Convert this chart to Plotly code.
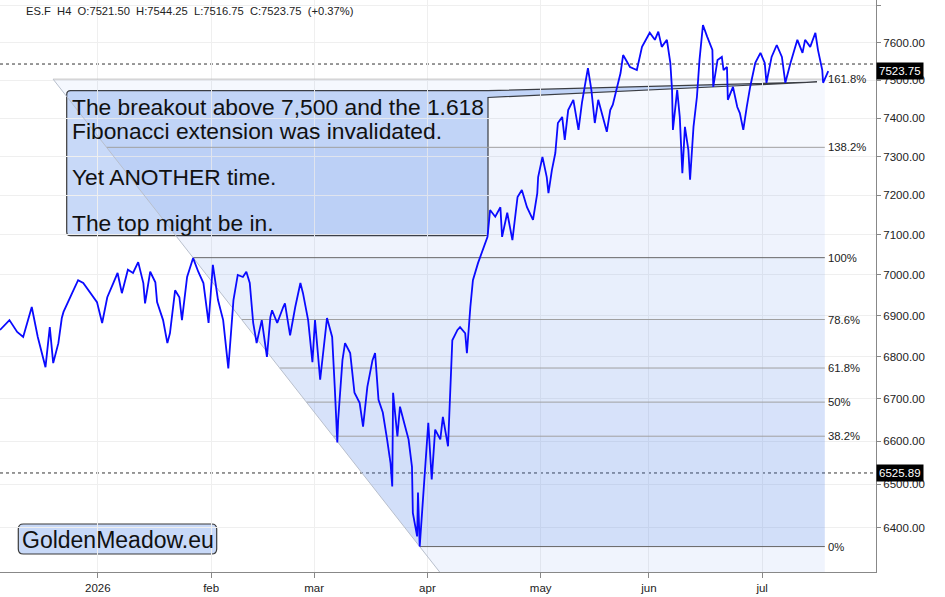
import numpy as np
import pandas as pd
import plotly.graph_objects as go

# ---------------- data ----------------
bar_time = [
    "2025-12-05 00:00", "2025-12-08 20:00", "2025-12-10 08:00", "2025-12-11 12:00", "2025-12-15 04:00",
    "2025-12-16 08:00", "2025-12-17 20:00", "2025-12-18 16:00", "2025-12-19 08:00", "2025-12-22 08:00",
    "2025-12-23 00:00", "2025-12-23 08:00", "2025-12-25 00:00", "2025-12-26 04:00", "2025-12-29 04:00",
    "2025-12-30 12:00", "2025-12-31 20:00", "2026-01-01 20:00", "2026-01-02 20:00", "2026-01-06 00:00",
    "2026-01-06 20:00", "2026-01-07 16:00", "2026-01-08 20:00", "2026-01-09 20:00", "2026-01-12 20:00",
    "2026-01-13 20:00", "2026-01-14 04:00", "2026-01-15 04:00", "2026-01-16 04:00", "2026-01-16 12:00",
    "2026-01-19 16:00", "2026-01-20 12:00", "2026-01-21 00:00", "2026-01-22 00:00", "2026-01-22 20:00",
    "2026-01-23 08:00", "2026-01-26 08:00", "2026-01-27 12:00", "2026-01-28 12:00", "2026-01-29 12:00",
    "2026-01-30 12:00", "2026-02-02 08:00", "2026-02-03 08:00", "2026-02-04 08:00", "2026-02-05 08:00",
    "2026-02-06 08:00", "2026-02-09 04:00", "2026-02-10 04:00", "2026-02-10 20:00", "2026-02-11 12:00",
    "2026-02-12 04:00", "2026-02-12 20:00", "2026-02-13 20:00", "2026-02-16 20:00", "2026-02-17 12:00",
    "2026-02-17 20:00", "2026-02-18 20:00", "2026-02-20 00:00", "2026-02-20 08:00", "2026-02-23 08:00",
    "2026-02-24 08:00", "2026-02-25 08:00", "2026-02-25 20:00", "2026-02-26 20:00", "2026-02-27 16:00",
    "2026-03-02 04:00", "2026-03-03 04:00", "2026-03-04 12:00", "2026-03-05 12:00", "2026-03-06 00:00",
    "2026-03-06 12:00", "2026-03-06 16:00", "2026-03-09 12:00", "2026-03-10 00:00", "2026-03-11 00:00",
    "2026-03-11 20:00", "2026-03-12 20:00", "2026-03-13 12:00", "2026-03-16 08:00", "2026-03-17 08:00",
    "2026-03-17 20:00", "2026-03-18 12:00", "2026-03-19 08:00", "2026-03-20 04:00", "2026-03-20 20:00",
    "2026-03-23 04:00", "2026-03-23 08:00", "2026-03-24 04:00", "2026-03-24 16:00", "2026-03-25 16:00",
    "2026-03-26 08:00", "2026-03-27 00:00", "2026-03-27 04:00", "2026-03-30 00:00", "2026-03-30 04:00",
    "2026-03-30 12:00", "2026-03-31 04:00", "2026-03-31 20:00", "2026-04-01 04:00", "2026-04-01 20:00",
    "2026-04-02 12:00", "2026-04-03 12:00", "2026-04-06 00:00", "2026-04-07 00:00", "2026-04-07 08:00",
    "2026-04-07 20:00", "2026-04-08 20:00", "2026-04-09 08:00", "2026-04-10 08:00", "2026-04-10 16:00",
    "2026-04-13 08:00", "2026-04-13 20:00", "2026-04-14 20:00", "2026-04-15 16:00", "2026-04-16 16:00",
    "2026-04-17 04:00", "2026-04-20 04:00", "2026-04-21 04:00", "2026-04-21 12:00", "2026-04-22 12:00",
    "2026-04-23 12:00", "2026-04-24 12:00", "2026-04-27 08:00", "2026-04-28 08:00", "2026-04-29 12:00",
    "2026-04-30 08:00", "2026-04-30 12:00", "2026-05-01 08:00", "2026-05-04 04:00", "2026-05-04 12:00",
    "2026-05-05 04:00", "2026-05-05 20:00", "2026-05-06 08:00", "2026-05-07 04:00", "2026-05-07 16:00",
    "2026-05-08 08:00", "2026-05-11 08:00", "2026-05-12 08:00", "2026-05-13 00:00", "2026-05-13 16:00",
    "2026-05-14 04:00", "2026-05-14 20:00", "2026-05-15 12:00", "2026-05-18 04:00", "2026-05-19 04:00",
    "2026-05-19 20:00", "2026-05-20 12:00", "2026-05-21 00:00", "2026-05-21 20:00", "2026-05-22 12:00",
    "2026-05-25 00:00", "2026-05-26 08:00", "2026-05-27 16:00", "2026-05-28 16:00", "2026-06-01 04:00",
    "2026-06-02 04:00", "2026-06-02 20:00", "2026-06-03 12:00", "2026-06-04 12:00", "2026-06-05 04:00",
    "2026-06-05 12:00", "2026-06-05 16:00", "2026-06-08 12:00", "2026-06-09 00:00", "2026-06-09 12:00",
    "2026-06-10 00:00", "2026-06-10 16:00", "2026-06-11 00:00", "2026-06-11 16:00", "2026-06-12 08:00",
    "2026-06-12 20:00", "2026-06-15 12:00", "2026-06-16 08:00", "2026-06-17 08:00", "2026-06-17 12:00",
    "2026-06-18 08:00", "2026-06-19 04:00", "2026-06-19 12:00", "2026-06-22 04:00", "2026-06-22 08:00",
    "2026-06-23 08:00", "2026-06-24 04:00", "2026-06-24 16:00", "2026-06-25 08:00", "2026-06-26 00:00",
    "2026-06-26 16:00", "2026-06-29 16:00", "2026-06-30 16:00", "2026-07-01 12:00", "2026-07-01 20:00",
    "2026-07-02 20:00", "2026-07-03 20:00", "2026-07-06 20:00", "2026-07-07 12:00", "2026-07-08 12:00",
    "2026-07-09 20:00", "2026-07-10 20:00", "2026-07-13 08:00", "2026-07-14 08:00", "2026-07-15 08:00",
    "2026-07-15 20:00", "2026-07-16 16:00", "2026-07-16 20:00", "2026-07-17 16:00", "2026-07-17 20:00",
]
close = [
    6865, 6889, 6860, 6848, 6921, 6848, 6775, 6872, 6785, 6833,
    6894, 6909, 6955, 6987, 6980, 6955, 6933, 6882, 6945, 6980,
    7005, 6955, 7013, 7005, 7032, 6980, 6930, 7008, 6982, 6933,
    6889, 6833, 6857, 6962, 6945, 6889, 6995, 7042, 7008, 6980,
    6882, 7025, 6938, 6889, 6772, 6938, 7000, 6995, 7008, 6980,
    6882, 6833, 6889, 6800, 6896, 6913, 6882, 6921, 6930, 6852,
    6921, 6980, 6955, 6889, 6787, 6889, 6745, 6894, 6848, 6728,
    6597, 6650, 6792, 6833, 6809, 6714, 6690, 6634, 6728, 6792,
    6809, 6697, 6667, 6604, 6549, 6495, 6714, 6611, 6681, 6634,
    6604, 6540, 6434, 6381, 6481, 6358, 6481, 6588, 6643, 6511,
    6627, 6604, 6657, 6588, 6681, 6840, 6865, 6872, 6857, 6809,
    6921, 6987, 7030, 7062, 7095, 7163, 7146, 7170, 7095, 7156,
    7087, 7196, 7214, 7170, 7138, 7206, 7247, 7299, 7247, 7206,
    7265, 7309, 7387, 7403, 7343, 7421, 7448, 7369, 7440, 7493,
    7532, 7474, 7387, 7448, 7395, 7364, 7421, 7435, 7482, 7519,
    7567, 7535, 7527, 7589, 7627, 7608, 7630, 7589, 7608, 7546,
    7474, 7369, 7474, 7403, 7257, 7377, 7317, 7240, 7377, 7456,
    7554, 7648, 7616, 7581, 7482, 7554, 7562, 7527, 7535, 7448,
    7482, 7429, 7413, 7369, 7429, 7482, 7546, 7573, 7546, 7493,
    7562, 7594, 7562, 7493, 7546, 7608, 7573, 7608, 7589, 7627,
    7581, 7527, 7493, 7519, 7523.75,
]

header_text = "ES.F  H4  O:7521.50  H:7544.25  L:7516.75  C:7523.75  (+0.37%)"
last_price = 7523.75
marked_price = 6525.89
dashed_levels = [7543.0, 6525.89]

fib_high_time, fib_high_price = "2026-01-27 12:00", 7043.0
fib_low_time, fib_low_price = "2026-03-30 12:00", 6358.0
fib_end_time = "2026-07-17 04:00"
fib_ratios = [0.0, 0.382, 0.5, 0.618, 0.786, 1.0, 1.382, 1.618]
fib_labels = ["0%", "38.2%", "50%", "61.8%", "78.6%", "100%", "138.2%", "161.8%"]

y_ticks = [6400, 6500, 6600, 6700, 6800, 6900, 7000, 7100, 7200, 7300, 7400, 7500, 7600, 7700]
y_ticktext = [f"{v:.2f}" for v in y_ticks]
x_ticks = ["2026-01-01", "2026-02-02", "2026-03-02", "2026-04-01", "2026-05-01", "2026-06-01", "2026-07-01"]
x_ticktext = ["2026", "feb", "mar", "apr", "may", "jun", "jul"]
x_range = ["2025-12-05 00:00", "2026-07-31 02:30"]
y_range_prices = [6301, 7716]

note_lines = ["The breakout above 7,500 and the 1.618", "Fibonacci extension was invalidated.",
              "Yet ANOTHER time.", "The top might be in."]
logo_text = "GoldenMeadow.eu"

# ---------------- layout geometry ----------------
W, H = 945, 597
ML, MR, MT, MB = 0, 69, 0, 25
PW, PH = W - ML - MR, H - MT - MB
FONT = "Liberation Sans, Arial, Helvetica, sans-serif"


def P(x, y):
    return f"{x / PW:.5f},{1 - y / PH:.5f}"


# ---------------- fib helpers (trading-day time) ----------------
BASE = np.datetime64("2026-01-01")


def to_t(s):
    ts = pd.Timestamp(s)
    return float(np.busday_count(BASE, np.datetime64(ts.date()))) + (ts.hour * 60 + ts.minute) / 1440.0


def from_t(t):
    day = int(np.floor(t))
    frac = t - day
    d = np.busday_offset(BASE, day, roll="forward")
    return pd.Timestamp(d) + pd.Timedelta(minutes=round(frac * 1440))


t_hi, t_lo = to_t(fib_high_time), to_t(fib_low_time)


def fib_price(r):
    return fib_low_price * (fib_high_price / fib_low_price) ** r


def diag_time(r):
    return from_t(t_lo + r * (t_hi - t_lo))


def pstr(ts):
    return ts.strftime("%Y-%m-%d_%H:%M:%S")


end_ts = pd.Timestamp(fib_end_time)

shapes = []
band_r = [-0.15] + fib_ratios
band_alpha = [0.08, 0.24, 0.21, 0.18, 0.15, 0.12, 0.085, 0.055]
for i in range(len(band_r) - 1):
    ra, rb = band_r[i], band_r[i + 1]
    pa, pb = fib_price(ra), fib_price(rb)
    path = (f"M {pstr(diag_time(ra))},{pa:.3f} L {pstr(end_ts)},{pa:.3f} "
            f"L {pstr(end_ts)},{pb:.3f} L {pstr(diag_time(rb))},{pb:.3f} Z")
    shapes.append(dict(type="path", path=path, xref="x", yref="y", layer="between",
                       fillcolor=f"rgba(66,120,230,{band_alpha[i]})", line=dict(width=0)))

for r in fib_ratios:
    col = "#666666" if r in (0.0, 1.0) else ("#c0c0c0" if r == 1.618 else "#a0a0a0")
    p = fib_price(r)
    shapes.append(dict(type="line", xref="x", yref="y", layer="between",
                       x0=diag_time(r).strftime("%Y-%m-%d %H:%M:%S"), x1=fib_end_time, y0=p, y1=p,
                       line=dict(color=col, width=1)))
# diagonal (trend line of the fib tool, extended)
shapes.append(dict(type="line", xref="x", yref="y", layer="between",
                   x0=diag_time(1.618).strftime("%Y-%m-%d %H:%M:%S"), y0=fib_price(1.618),
                   x1=diag_time(-0.15).strftime("%Y-%m-%d %H:%M:%S"), y1=fib_price(-0.15),
                   line=dict(color="#b8bfcc", width=1)))

for lv in dashed_levels:
    shapes.append(dict(type="line", xref="paper", yref="y", layer="between", x0=0, x1=1, y0=lv, y1=lv,
                       line=dict(color="#333333", width=1, dash="3px,3px")))

# callout box with tail
bx0, bx1, by0, by1, rr = 66.7, 488.0, 90.7, 235.7, 4
tip = (817.0, 82.0)
box_path = (f"M {P(bx0 + rr, by0)} L {P(bx1, by0)} L {P(*tip)} L {P(bx1, 97.5)} "
            f"L {P(bx1, by1 - rr)} Q {P(bx1, by1)} {P(bx1 - rr, by1)} "
            f"L {P(bx0 + rr, by1)} Q {P(bx0, by1)} {P(bx0, by1 - rr)} "
            f"L {P(bx0, by0 + rr)} Q {P(bx0, by0)} {P(bx0 + rr, by0)} Z")
shapes.append(dict(type="path", path=box_path, xref="paper", yref="paper", layer="between",
                   fillcolor="rgba(170,197,244,0.65)", line=dict(color="#3a3a3a", width=1.2)))

# logo box
lx0, lx1, ly0, ly1, lr = 18.3, 216.7, 524.0, 554.0, 5
logo_path = (f"M {P(lx0 + lr, ly0)} L {P(lx1 - lr, ly0)} Q {P(lx1, ly0)} {P(lx1, ly0 + lr)} "
             f"L {P(lx1, ly1 - lr)} Q {P(lx1, ly1)} {P(lx1 - lr, ly1)} "
             f"L {P(lx0 + lr, ly1)} Q {P(lx0, ly1)} {P(lx0, ly1 - lr)} "
             f"L {P(lx0, ly0 + lr)} Q {P(lx0, ly0)} {P(lx0 + lr, ly0)} Z")
shapes.append(dict(type="path", path=logo_path, xref="paper", yref="paper", layer="between",
                   fillcolor="rgba(170,197,244,0.65)", line=dict(color="#3a3a3a", width=1.2)))

# ---------------- annotations ----------------
ann = []
ann.append(dict(text=header_text, xref="paper", yref="paper", x=24 / PW, y=1 - 11 / PH,
                xanchor="left", yanchor="middle", showarrow=False,
                font=dict(family=FONT, size=11.2, color="#222222")))
for txt, yc in zip(note_lines, [107.5, 131, 177, 223]):
    ann.append(dict(text=txt, xref="paper", yref="paper", x=70 / PW, y=1 - yc / PH,
                    xanchor="left", yanchor="middle", showarrow=False,
                    font=dict(family=FONT, size=22.8, color="#111111")))
ann.append(dict(text=logo_text, xref="paper", yref="paper", x=117.5 / PW, y=1 - 539.5 / PH,
                xanchor="center", yanchor="middle", showarrow=False,
                font=dict(family=FONT, size=23, color="#111111")))
for r, lab in zip(fib_ratios, fib_labels):
    ann.append(dict(text=lab, xref="x", yref="y", x=fib_end_time, y=np.log10(fib_price(r)),
                    xanchor="left", yanchor="middle", xshift=1, showarrow=False,
                    font=dict(family=FONT, size=11.3, color="#222222")))
for pv in [last_price, marked_price]:
    ann.append(dict(text=f"{pv:.2f}", xref="paper", yref="y", x=1, y=np.log10(pv),
                    xanchor="left", yanchor="middle", showarrow=False, bgcolor="#000000",
                    borderpad=2, font=dict(family=FONT, size=11.5, color="#ffffff")))

# ---------------- figure ----------------
fig = go.Figure()
fig.add_trace(go.Scatter(x=pd.to_datetime(bar_time), y=close, mode="lines",
                         line=dict(color="#0a0aff", width=1.8), hoverinfo="skip"))

fig.update_layout(
    width=W, height=H, margin=dict(l=ML, r=MR, t=MT, b=MB),
    paper_bgcolor="white", plot_bgcolor="white", showlegend=False,
    font=dict(family=FONT, size=11.5, color="#222222"),
    shapes=shapes, annotations=ann,
    xaxis=dict(type="date", range=x_range, rangebreaks=[dict(bounds=["sat", "mon"])],
               tickmode="array", tickvals=x_ticks, ticktext=x_ticktext,
               ticks="outside", ticklen=5, tickcolor="#888888",
               showline=True, linecolor="#888888", linewidth=1,
               showgrid=True, gridcolor="#efefef", zeroline=False, automargin=False,
               tickfont=dict(family=FONT, size=11.5, color="#222222")),
    yaxis=dict(type="log", side="right", range=[np.log10(y_range_prices[0]), np.log10(y_range_prices[1])],
               tickmode="array", tickvals=y_ticks, ticktext=y_ticktext,
               ticks="outside", ticklen=4, tickcolor="#888888",
               showline=True, linecolor="#888888", linewidth=1,
               showgrid=True, gridcolor="#efefef", zeroline=False, automargin=False,
               tickfont=dict(family=FONT, size=11.5, color="#222222")),
)

fig.write_html("out.html", config={"displayModeBar": False})
